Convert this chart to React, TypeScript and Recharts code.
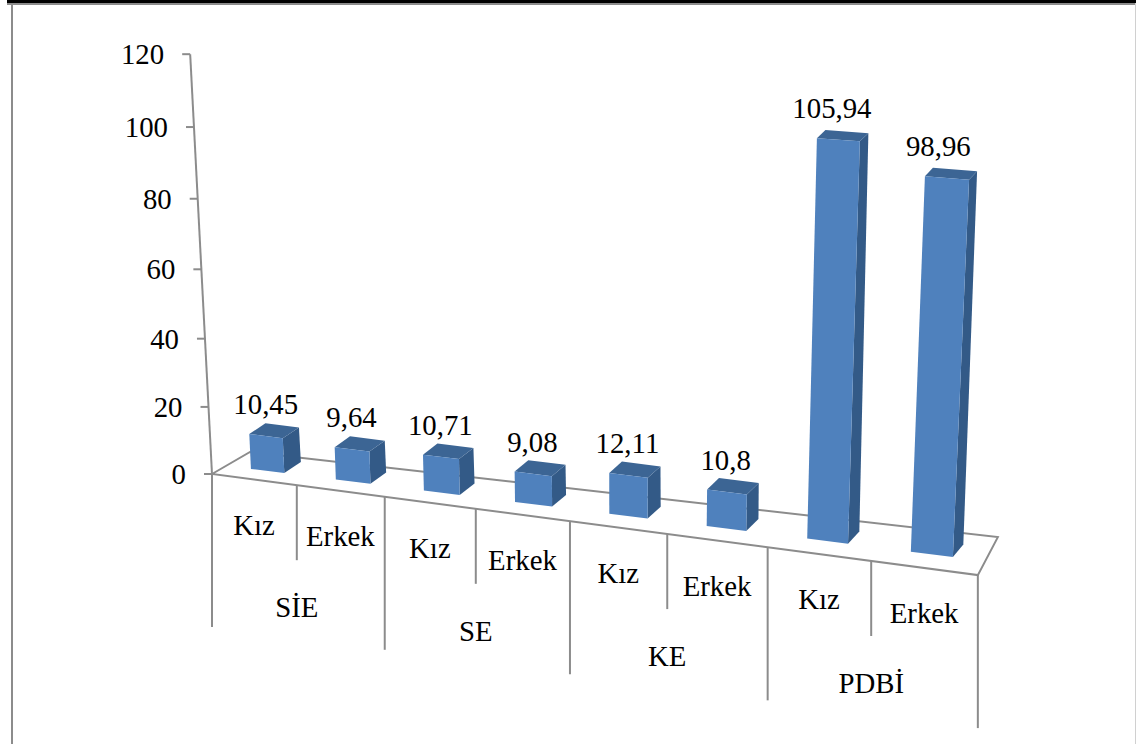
import { Bar, BarChart, LabelList, ReferenceArea, XAxis, YAxis } from "recharts";

const genders = ["Kız", "Erkek", "Kız", "Erkek", "Kız", "Erkek", "Kız", "Erkek"];
const groups = ["SİE", "SE", "KE", "PDBİ"];
const values = [10.45, 9.64, 10.71, 9.08, 12.11, 10.8, 105.94, 98.96];
const yTicks = [0, 20, 40, 60, 80, 100, 120];

const rows = genders.map((gender, i) => ({ gender, value: values[i] }));

// plot box of the flat chart, the 3d look is a projection of it
const PLOT_LEFT = 212;
const PLOT_RIGHT = 977;
const PLOT_BASE = 474;
const PLOT_TOP = 54;
const BAND = (PLOT_RIGHT - PLOT_LEFT) / genders.length;
const BAR_DEPTH = 0.37;

const FONT = "'Liberation Serif', 'Times New Roman', serif";
const FONT_SIZE = 28.8;
const LINE = "#8c8c8c";
const LINE_WIDTH = 2;
const FACE = "#4f81bd";
const SIDE = "#335a87";
const TOP = "#3c6594";

const toBand = (flatX: number) => (flatX - PLOT_LEFT) / BAND;
const frontX = (i: number) => PLOT_LEFT + 83.25 * i + 1.56 * i * i;
const frontY = (i: number) => PLOT_BASE + 0.132 * (frontX(i) - PLOT_LEFT);

// point on the floor, depth 0 is the front edge and 1 the back edge
function floor(i: number, depth: number) {
  const t = i / 8;
  return {
    x: frontX(i) + depth * (38 - 18 * t),
    y: frontY(i) - depth * (22 + 16 * t),
  };
}

// a flat pixel height rendered at some floor point, walls lean away from the centre
function lift(i: number, depth: number, h: number) {
  const base = floor(i, depth);
  const t = i / 8;
  const rise = (0.95 * h + 0.000118 * h * h) * (1 + (0.11 * t * h) / 370);
  const lean = (base.x - 618) * 0.000128;
  return { x: base.x + lean * rise, y: base.y - rise };
}

const pts = (list: { x: number; y: number }[]) => list.map((p) => `${p.x},${p.y}`).join(" ");

function Box3D(props: any) {
  const { x, width, height } = props;
  const i1 = toBand(x);
  const i2 = toBand(x + width);
  const t = (i1 + i2) / 16;

  const back = (p: { x: number; y: number }, h: number) => ({
    x: p.x + (17 - 7 * t) * (1 - h / 1500),
    y: p.y - (11 + 1.5 * t) * (1 - h / 1100),
  });

  const bl = lift(i1, BAR_DEPTH, 0);
  const br = lift(i2, BAR_DEPTH, 0);
  const tl = lift(i1, BAR_DEPTH, height);
  const tr = lift(i2, BAR_DEPTH, height);

  return (
    <g>
      <polygon points={pts([br, back(br, 0), back(tr, height), tr])} fill={SIDE} />
      <polygon points={pts([tl, tr, back(tr, height), back(tl, height)])} fill={TOP} />
      <polygon points={pts([bl, br, tr, tl])} fill={FACE} />
    </g>
  );
}

function ValueLabel(props: any) {
  const { x, width, height, value } = props;
  const mid = toBand(x + width / 2);
  const top = lift(mid, BAR_DEPTH, height);
  const ground = floor(mid, BAR_DEPTH);
  return (
    <text
      x={(ground.x + top.x) / 2 - 1}
      y={top.y - 22}
      textAnchor="middle"
      fontFamily={FONT}
      fontSize={FONT_SIZE}
      fill="#000"
    >
      {String(value).replace(".", ",")}
    </text>
  );
}

// floor outline and the slanted value axis, sits behind the bars
function Floor() {
  const topOfAxis = lift(0, 0, PLOT_BASE - PLOT_TOP);
  const corners = [floor(0, 0), floor(0, 1), floor(8, 1), floor(8, 0)];
  return (
    <g>
      <polygon points={pts(corners)} fill="none" stroke={LINE} strokeWidth={LINE_WIDTH} />
      <line x1={topOfAxis.x} y1={topOfAxis.y} x2={PLOT_LEFT} y2={PLOT_BASE} stroke={LINE} strokeWidth={LINE_WIDTH} />
    </g>
  );
}

function ValueTick(props: any) {
  const { y, payload } = props;
  const p = lift(0, 0, PLOT_BASE - y);
  return (
    <g>
      <line x1={p.x - 8} y1={p.y} x2={p.x} y2={p.y} stroke={LINE} strokeWidth={LINE_WIDTH} />
      <text
        x={p.x - 26}
        y={p.y + 10}
        textAnchor="end"
        fontFamily={FONT}
        fontSize={FONT_SIZE}
        fill="#000"
      >
        {payload.value}
      </text>
    </g>
  );
}

function CategoryTick(props: any) {
  const { x, index, payload } = props;
  const mid = toBand(x);
  const edge = mid + 0.5;
  const isGroupEnd = index % 2 === 1;
  const tickLen = isGroupEnd ? 153 : 75;
  const textProps = { textAnchor: "middle" as const, fontFamily: FONT, fontSize: FONT_SIZE, fill: "#000" };
  return (
    <g>
      <text x={frontX(mid)} y={frontY(mid) + 55} {...textProps}>
        {payload.value}
      </text>
      <line x1={frontX(edge)} y1={frontY(edge)} x2={frontX(edge)} y2={frontY(edge) + tickLen} stroke={LINE} strokeWidth={LINE_WIDTH} />
      {index === 0 && (
        <line x1={PLOT_LEFT} y1={PLOT_BASE} x2={PLOT_LEFT} y2={PLOT_BASE + 153} stroke={LINE} strokeWidth={LINE_WIDTH} />
      )}
      {!isGroupEnd && (
        <text x={frontX(edge)} y={frontY(edge) + 132} {...textProps}>
          {groups[index / 2]}
        </text>
      )}
    </g>
  );
}

export default function App() {
  return (
    <div style={{ position: "absolute", left: 0, top: 0, width: 1136, height: 744, background: "#fff", overflow: "hidden" }}>
      <div style={{ position: "absolute", left: 7, right: 0, top: 0, height: 3, background: "#000" }} />
      <div style={{ position: "absolute", left: 7, right: 0, top: 3, height: 2, background: "#8c8c8c" }} />
      <div style={{ position: "absolute", left: 11, top: 3, bottom: 0, width: 2, background: "#8c8c8c" }} />
      <div style={{ position: "absolute", right: 0, top: 3, bottom: 0, width: 1, background: "#d0d0d0" }} />
      <div style={{ position: "absolute", left: 0, top: 0 }}>
        <BarChart
          width={1136}
          height={744}
          data={rows}
          barCategoryGap="30%"
          margin={{ left: PLOT_LEFT - 1, right: 1136 - PLOT_RIGHT, top: PLOT_TOP, bottom: 744 - PLOT_BASE - 1 }}
        >
          <XAxis
            dataKey="gender"
            height={1}
            interval={0}
            axisLine={false}
            tickLine={false}
            tick={CategoryTick}
          />
          <YAxis
            width={1}
            domain={[0, 120]}
            ticks={yTicks}
            axisLine={false}
            tickLine={false}
            tick={ValueTick}
          />
          <ReferenceArea y1={0} y2={120} ifOverflow="visible" shape={Floor} />
          <Bar dataKey="value" shape={Box3D} isAnimationActive={false}>
            <LabelList dataKey="value" content={ValueLabel} />
          </Bar>
        </BarChart>
      </div>
    </div>
  );
}
